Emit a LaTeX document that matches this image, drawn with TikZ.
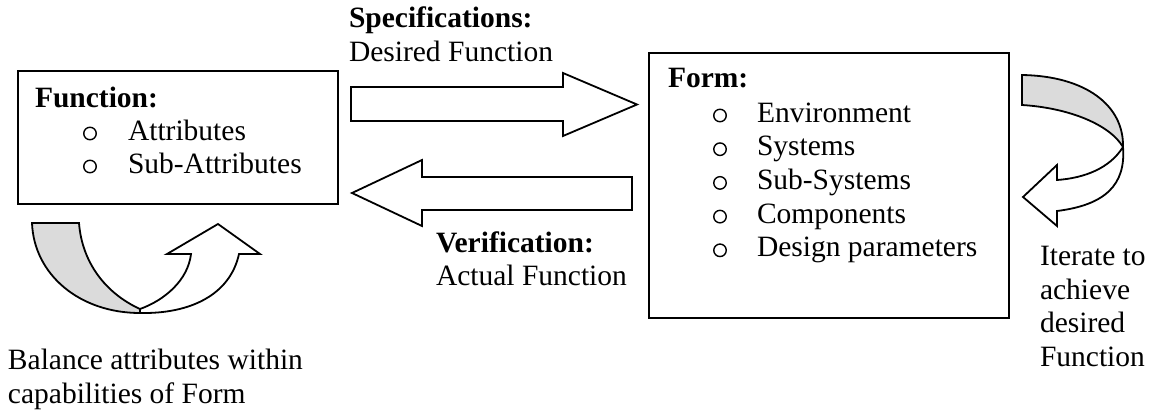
\documentclass[tikz,border=0pt]{standalone}
\usepackage{fontspec}
\setmainfont{Liberation Serif}
\begin{document}
\begin{tikzpicture}[x=1pt,y=-1pt,
  txt/.style={anchor=base west, inner sep=0pt, outer sep=0pt,
              font=\fontsize{29.5}{33.7}\selectfont},
  bul/.style={circle, draw, line width=1.4pt, minimum size=12.5pt, inner sep=0pt},
  frame/.style={draw, line width=2pt, anchor=north west, inner sep=0pt},
  blockarrow/.style={draw, line width=1.8pt, fill=white, line join=miter},
  backface/.style={draw, line width=1.8pt, fill=gray!28, line join=miter}]
\useasboundingbox (0,0) rectangle (1151,412);

% ---- Function box ----
\node[frame, minimum width=320pt, minimum height=133pt] (funcbox) at (17,70) {};
\node[txt] (functitle) at (35,107) {\bfseries Function:};
\node[bul] (fb1) at (90,133.5) {};
\node[bul] (fb2) at (90,166.5) {};
\node[txt] (fattr) at (128,140) {Attributes};
\node[txt] (fsub) at (128,173) {Sub-Attributes};

% ---- Form box ----
\node[frame, minimum width=360pt, minimum height=265pt] (formbox) at (648,52) {};
\node[txt] (formtitle) at (668,87) {\bfseries Form:};
\foreach \i/\t [count=\k] in {122/Environment,155.7/Systems,189.4/Sub-Systems,223.1/Components,256.8/Design parameters}{
  \node[bul] (ob\k) at (720,\i-6.5) {};
  \node[txt] (oi\k) at (757,\i) {\t};
}

% ---- Specification arrow (Function -> Form) ----
\path[blockarrow] (351,87) -- (563,87) -- (563,73) -- (637,104.5)
  -- (563,136) -- (563,121) -- (351,121) -- cycle;
\node[txt] (spec) at (349,28) {\bfseries Specifications:};
\node[txt] (desired) at (349,62) {Desired Function};

% ---- Verification arrow (Form -> Function) ----
\path[blockarrow] (632,177) -- (422,177) -- (422,160) -- (352,193)
  -- (422,226) -- (422,210) -- (632,210) -- cycle;
\node[txt] (verif) at (436,252) {\bfseries Verification:};
\node[txt] (actual) at (436,285) {Actual Function};

% ---- Balancing loop under the Function box ----
\path[backface] (32,223) -- (79,223)
  .. controls (82,262) and (105,293) .. (140,309)
  .. controls (141,311) and (141,312) .. (140,313)
  .. controls (80,313) and (34,275) .. (32,223) -- cycle;
\path[blockarrow] (140,309)
  .. controls (165,300) and (188,280) .. (191,254)
  -- (167,254) -- (218,224) -- (260,254) -- (239,254)
  .. controls (230,295) and (190,314) .. (140,313) -- cycle;
\node[txt] (bal1) at (8,369) {Balance attributes within};
\node[txt] (bal2) at (8,403) {capabilities of Form};

% ---- Iteration loop beside the Form box ----
\path[backface] (1022,75) -- (1022,105)
  .. controls (1070,108) and (1110,125) .. (1123,147)
  .. controls (1124,105) and (1085,76) .. (1022,75) -- cycle;
\path[blockarrow] (1123,147)
  .. controls (1110,168) and (1085,178) .. (1057,180)
  -- (1057,165) -- (1023,197) -- (1057,226) -- (1057,211)
  .. controls (1105,205) and (1126,185) .. (1123,147) -- cycle;
\node[txt] (it1) at (1040,265) {Iterate to};
\node[txt] (it2) at (1040,299) {achieve};
\node[txt] (it3) at (1040,332) {desired};
\node[txt] (it4) at (1040,366) {Function};
\end{tikzpicture}
\end{document}
